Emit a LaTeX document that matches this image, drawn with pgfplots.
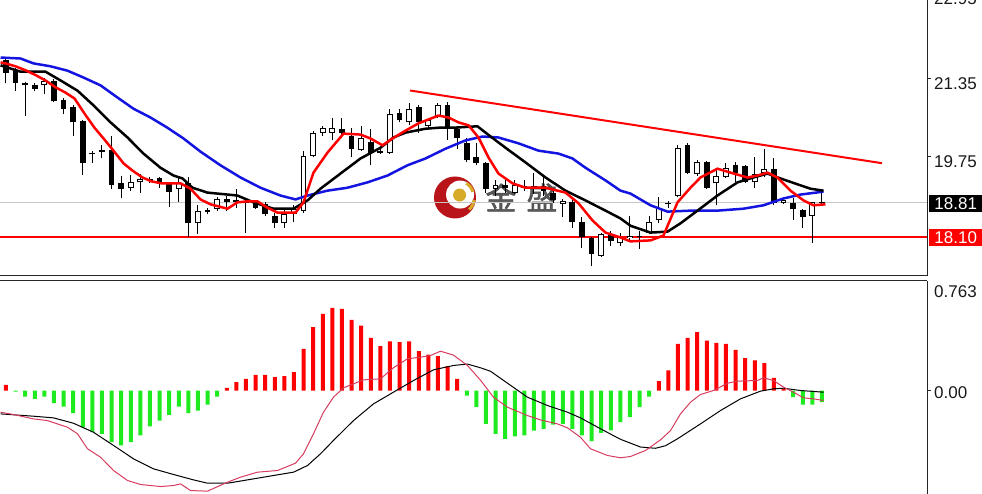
\documentclass[border=0pt]{standalone}
\usepackage{pgfplots}
\pgfplotsset{compat=1.18}
\usepackage{pgfplotstable}
\usepackage{fontspec}
\setmainfont{Liberation Sans}
\newfontfamily\cjk[FakeBold=1.5]{Noto Sans CJK SC}

\definecolor{maBlue}{RGB}{20,20,225}
\definecolor{histRed}{RGB}{255,0,0}
\definecolor{histGreen}{RGB}{30,235,30}
\definecolor{macdPink}{RGB}{214,60,95}
\definecolor{logoRed}{RGB}{185,20,25}
\definecolor{logoGold}{RGB}{215,170,40}
\definecolor{wmGray}{RGB}{60,60,60}
\newcommand\lbl{\fontsize{17}{17}\selectfont}

% daily bars: index, open, high, low, close
\pgfplotstableread{
i O H L C
0 21.72 21.80 21.25 21.47
1 21.51 21.56 21.10 21.25
2 21.25 21.27 20.59 21.21
3 21.21 21.25 21.10 21.14
4 21.21 21.35 21.04 21.29
5 21.29 21.33 20.86 20.88
6 20.90 20.96 20.63 20.73
7 20.76 20.80 20.18 20.45
8 20.47 20.49 19.38 19.61
9 19.81 19.87 19.61 19.83
10 19.85 19.98 19.71 19.89
11 19.89 20.18 19.09 19.16
12 19.20 19.36 18.89 19.09
13 19.11 19.38 19.05 19.22
14 19.22 19.40 19.01 19.28
15 19.28 19.32 19.20 19.24
16 19.30 19.34 19.11 19.20
17 19.20 19.22 18.72 19.03
18 19.09 19.32 18.81 19.20
19 19.20 19.32 18.09 18.38
20 18.38 18.75 18.17 18.64
21 18.62 18.70 18.58 18.66
22 18.68 18.91 18.64 18.87
23 18.87 18.95 18.64 18.81
24 18.81 19.09 18.70 18.85
25 18.83 18.85 18.19 18.79
26 18.79 18.83 18.68 18.70
27 18.77 18.81 18.54 18.58
28 18.54 18.60 18.29 18.38
29 18.38 18.68 18.29 18.58
30 18.58 18.75 18.40 18.68
31 18.64 19.87 18.60 19.77
32 19.77 20.28 19.73 20.24
33 20.24 20.37 20.18 20.34
34 20.24 20.53 20.08 20.34
35 20.32 20.53 20.12 20.24
36 20.18 20.34 19.73 19.91
37 19.89 20.37 19.87 20.12
38 20.04 20.32 19.57 19.83
39 19.87 19.91 19.81 19.83
40 19.83 20.73 19.81 20.63
41 20.65 20.73 20.45 20.49
42 20.45 20.84 20.39 20.73
43 20.76 20.80 20.24 20.45
44 20.37 20.55 20.32 20.49
45 20.59 20.84 20.53 20.80
46 20.80 20.86 20.08 20.32
47 20.32 20.34 19.91 20.14
48 20.02 20.12 19.63 19.67
49 19.73 20.02 19.57 19.61
50 19.61 19.63 19.01 19.09
51 19.09 19.26 18.95 19.16
52 19.16 19.30 19.01 19.11
53 19.01 19.26 18.99 19.16
54 19.11 19.26 19.05 19.14
55 19.14 19.42 18.99 19.09
56 19.14 19.36 18.95 19.05
57 19.01 19.05 18.79 18.85
58 18.77 18.87 18.50 18.83
59 18.81 18.85 18.29 18.40
60 18.40 18.50 17.88 18.09
61 18.07 18.09 17.51 17.76
62 17.72 18.19 17.68 18.17
63 18.17 18.23 17.92 18.01
64 17.97 18.19 17.92 18.09
65 18.07 18.54 17.99 18.13
66 18.09 18.23 17.86 18.13
67 18.19 18.54 18.17 18.40
68 18.44 18.91 18.38 18.70
69 18.77 18.83 18.70 18.79
70 18.95 19.98 18.91 19.93
71 19.98 20.02 19.40 19.42
72 19.40 19.67 19.36 19.63
73 19.63 19.65 19.09 19.11
74 19.20 19.50 18.75 19.36
75 19.32 19.61 19.30 19.52
76 19.57 19.63 19.22 19.42
77 19.55 19.57 19.20 19.22
78 19.22 19.73 19.11 19.40
79 19.42 19.91 19.32 19.50
80 19.50 19.71 18.75 18.79
81 18.79 18.87 18.77 18.85
82 18.79 18.89 18.44 18.68
83 18.66 18.68 18.29 18.50
84 18.54 18.82 17.97 18.81
85 18.79 19.05 18.77 18.81
}\candles

% MACD histogram
\pgfplotstableread{
i h
0 0.044
1 -0.008
2 -0.047
3 -0.065
4 -0.047
5 -0.099
6 -0.125
7 -0.177
8 -0.286
9 -0.325
10 -0.337
11 -0.402
12 -0.428
13 -0.402
14 -0.350
15 -0.280
16 -0.234
17 -0.190
18 -0.125
19 -0.177
20 -0.156
21 -0.109
22 -0.047
23 0.021
24 0.065
25 0.091
26 0.122
27 0.122
28 0.104
29 0.112
30 0.143
31 0.325
32 0.493
33 0.597
34 0.644
35 0.636
36 0.550
37 0.506
38 0.410
39 0.345
40 0.382
41 0.376
42 0.382
43 0.306
44 0.280
45 0.267
46 0.190
47 0.091
48 -0.039
49 -0.130
50 -0.260
51 -0.337
52 -0.376
53 -0.358
54 -0.350
55 -0.312
56 -0.299
57 -0.265
58 -0.260
59 -0.299
60 -0.350
61 -0.395
62 -0.330
63 -0.310
64 -0.247
65 -0.208
66 -0.130
67 -0.047
68 0.073
69 0.156
70 0.363
71 0.410
72 0.454
73 0.389
74 0.371
75 0.363
76 0.317
77 0.252
78 0.234
79 0.213
80 0.099
81 0.013
82 -0.052
83 -0.109
84 -0.109
85 -0.091
}\hist

\begin{document}
\begin{tikzpicture}[x=1pt,y=1pt]
\path[use as bounding box] (0pt,0pt) rectangle (982pt,494pt);

% ---------------- price panel ----------------
\begin{axis}[
  at={(0pt,218pt)}, anchor=south west,
  width=927pt, height=276pt, scale only axis,
  xmin=-0.625, xmax=95.94, ymin=17.30, ymax=22.96,
  axis x line*=bottom, axis y line*=right,
  axis line style={line width=1pt, black!85},
  xtick=\empty, ytick={21.35,19.75}, yticklabels={},
  tick align=outside, major tick length=4pt,
  tick style={line width=1pt, black!85},
]
% watermark
\fill[logoRed] (axis cs:46.77,18.91) circle[radius=21pt];
\fill[white] (axis cs:47.30,18.97) circle[radius=14pt];
\fill[logoGold] (axis cs:47.25,18.96) circle[radius=6.5pt];
\draw[logoGold, line width=3pt] (axis cs:47.95,19.20) arc[start angle=60, end angle=15, radius=14pt];
\draw[logoGold, line width=3pt] (axis cs:48.75,18.86) arc[start angle=-5, end angle=-50, radius=14pt];
\node[font=\cjk\fontsize{31}{31}\selectfont, text=wmGray, opacity=0.85] at (axis cs:51.56,18.91) {金};
\node[font=\cjk\fontsize{31}{31}\selectfont, text=wmGray, opacity=0.85] at (axis cs:55.83,18.91) {盛};

% bid line, support and falling resistance
\addplot[gray!45, line width=0.8pt] coordinates {(-0.625,18.81) (95.94,18.81)};
\addplot[red, line width=2.4pt] coordinates {(-0.625,18.10) (95.94,18.10)};
\addplot[red, line width=2pt] coordinates {(42.08,21.104) (91.25,19.613)};

% candle wicks
\addplot[draw=none, mark=none, forget plot,
  error bars/.cd, y dir=plus, y explicit, error mark=none,
  error bar style={draw=black, solid, line width=1pt}]
  table[x=i, y=L, y error plus expr={\thisrow{H}-\thisrow{L}}] {\candles};
% candle bodies
\addplot[draw=none, mark=none, forget plot,
  error bars/.cd, y dir=plus, y explicit, error mark=none,
  error bar style={draw=black, solid, line width=5.8pt}]
  table[x=i, y expr={min(\thisrow{O},\thisrow{C})},
        y error plus expr={abs(\thisrow{C}-\thisrow{O})}] {\candles};
% hollow interior of rising bodies
\addplot[draw=none, mark=none, forget plot,
  error bars/.cd, y dir=plus, y explicit, error mark=none,
  error bar style={draw=white, solid, line width=3.8pt}]
  table[x=i, y expr={\thisrow{O}+0.0205},
        y error plus expr={(\thisrow{C}>\thisrow{O})*max(\thisrow{C}-\thisrow{O}-0.041,0)}] {\candles};

% moving averages
\addplot[maBlue, line width=2.5pt] coordinates {
(-0.57,21.78) (1.51,21.76) (2.86,21.66) (4.64,21.60) (6.41,21.51) (8.07,21.37) (9.84,21.21)
(11.61,20.96) (13.28,20.73) (15.05,20.55) (16.82,20.34) (18.49,20.12) (20.26,19.85) (22.34,19.57)
(24.43,19.32) (26.51,19.11) (28.59,18.95) (30.16,18.87) (31.41,18.95) (33.49,19.05) (35.57,19.11)
(37.66,19.22) (39.74,19.36) (41.82,19.57) (43.70,19.71) (45.78,19.91) (47.86,20.08) (49.64,20.16)
(51.30,20.14) (53.39,20.02) (55.47,19.87) (57.55,19.81) (59.01,19.71) (60.36,19.52) (62.45,19.26)
(64.01,19.05) (65.05,18.99) (67.14,18.75) (68.91,18.62) (71.30,18.64) (74.11,18.64) (76.82,18.68)
(78.91,18.75) (80.99,18.89) (82.76,18.97) (85.16,19.03)};
\addplot[black, line width=2.5pt] coordinates {
(-0.57,21.62) (1.51,21.49) (4.11,21.49) (5.68,21.31) (7.45,21.10) (9.11,20.80) (10.89,20.45)
(12.66,20.14) (14.32,19.81) (16.09,19.52) (17.45,19.36) (18.39,19.30) (19.43,19.11) (20.99,19.01)
(22.03,18.99) (24.11,18.95) (25.78,18.81) (27.86,18.68) (29.95,18.68) (31.41,18.85) (32.76,19.09)
(34.84,19.40) (36.93,19.71) (39.01,19.93) (40.36,20.14) (41.61,20.24) (43.70,20.32) (45.05,20.34)
(46.51,20.34) (49.11,20.37) (49.95,20.24) (52.03,19.93) (54.11,19.63) (56.20,19.32) (58.28,19.05)
(60.36,18.85) (62.45,18.64) (64.01,18.48) (65.05,18.33) (67.14,18.19) (68.91,18.21) (70.26,18.38)
(72.03,18.64) (74.11,18.95) (76.20,19.22) (77.86,19.32) (79.32,19.40) (80.68,19.30) (82.45,19.18)
(83.80,19.09) (85.16,19.05)};
\addplot[red, line width=2.5pt] coordinates {
(-0.57,21.68) (-0.05,21.66) (0.99,21.60) (2.14,21.51) (3.18,21.41) (4.11,21.31) (5.16,21.17)
(6.20,21.06) (7.14,20.94) (8.18,20.63) (9.22,20.34) (10.16,20.12) (11.20,19.87) (12.24,19.61)
(13.18,19.46) (14.22,19.32) (15.16,19.24) (16.20,19.20) (17.24,19.20) (18.18,19.20) (19.22,19.09)
(20.26,18.87) (21.30,18.77) (23.07,18.68) (24.11,18.81) (25.16,18.83) (26.20,18.83) (27.24,18.70)
(28.28,18.60) (30.16,18.60) (30.99,18.81) (32.03,19.42) (33.49,19.83) (35.16,20.22) (36.93,20.20)
(37.97,20.12) (39.22,19.98) (40.26,20.12) (41.61,20.28) (42.97,20.43) (45.05,20.59) (46.09,20.55)
(47.14,20.45) (48.18,20.39) (49.22,20.14) (50.26,19.73) (51.30,19.40) (52.76,19.20) (54.11,19.11)
(56.20,19.11) (58.28,19.01) (59.64,18.79) (61.09,18.44) (62.45,18.19) (64.01,18.09) (65.05,18.01)
(67.14,18.03) (68.49,18.13) (69.95,18.81) (71.30,19.11) (72.34,19.32) (74.11,19.50) (75.47,19.42)
(77.24,19.32) (78.28,19.36) (79.32,19.42) (80.36,19.32) (81.72,19.05) (83.07,18.85) (84.11,18.75)
(85.36,18.77)};

\coordinate (P2135) at (axis cs:0,21.35);
\coordinate (P1975) at (axis cs:0,19.75);
\coordinate (P1881) at (axis cs:0,18.81);
\coordinate (P1810) at (axis cs:0,18.10);
\end{axis}

% ---------------- MACD panel ----------------
\begin{axis}[
  at={(0pt,0pt)}, anchor=south west,
  width=927pt, height=213pt, scale only axis,
  xmin=-0.625, xmax=95.94, ymin=-0.806, ymax=0.853,
  axis x line*=top, axis y line*=right,
  axis line style={line width=1pt, black!85},
  xtick=\empty, ytick={0}, yticklabels={},
  tick align=outside, major tick length=4pt,
  tick style={line width=1pt, black!85},
]
\addplot[ybar, bar width=4pt, bar shift=0pt, fill=histRed, draw=none,
  restrict y to domain=0:2] table[x=i, y=h] {\hist};
\addplot[ybar, bar width=4pt, bar shift=0pt, fill=histGreen, draw=none,
  restrict y to domain=-2:0] table[x=i, y=h] {\hist};

\addplot[black, line width=1pt] coordinates {
(-0.57,-0.182) (2.86,-0.200) (4.95,-0.213) (7.03,-0.255) (9.11,-0.325) (11.20,-0.428) (13.28,-0.532)
(15.36,-0.610) (17.45,-0.654) (19.53,-0.696) (20.99,-0.722) (23.07,-0.722) (25.16,-0.696) (27.86,-0.662)
(29.95,-0.636) (31.41,-0.584) (32.76,-0.493) (34.11,-0.389) (36.20,-0.234) (38.28,-0.104) (40.36,-0.013)
(42.45,0.078) (44.53,0.161) (46.61,0.195) (48.07,0.206) (49.43,0.177) (50.47,0.150) (52.24,0.057)
(54.32,-0.052) (56.41,-0.117) (58.49,-0.169) (59.84,-0.213) (61.93,-0.298) (64.01,-0.380) (66.09,-0.440)
(67.66,-0.450) (68.70,-0.430) (69.95,-0.376) (72.34,-0.260) (74.43,-0.156) (76.51,-0.065) (78.59,-0.005)
(79.95,0.013) (80.99,0.018) (82.76,0.0) (85.16,-0.013)};
\addplot[macdPink, line width=1pt] coordinates {
(-0.57,-0.169) (0.78,-0.187) (2.86,-0.221) (4.32,-0.234) (6.41,-0.286) (7.45,-0.337) (8.49,-0.454)
(9.84,-0.519) (11.20,-0.623) (12.66,-0.701) (14.01,-0.732) (16.09,-0.748) (17.45,-0.740) (18.18,-0.727)
(19.22,-0.779) (20.99,-0.784) (23.07,-0.714) (24.43,-0.675) (26.20,-0.636) (28.28,-0.623) (30.16,-0.566)
(30.99,-0.493) (32.03,-0.337) (33.07,-0.169) (34.11,-0.052) (35.16,0.021) (36.20,0.052) (37.24,0.083)
(39.01,0.091) (40.36,0.177) (41.82,0.247) (43.18,0.260) (44.22,0.273) (45.26,0.306) (46.61,0.276)
(48.07,0.195) (49.43,0.080) (50.78,-0.052) (52.24,-0.130) (54.32,-0.195) (55.68,-0.229) (57.45,-0.260)
(58.49,-0.291) (59.84,-0.364) (60.89,-0.454) (62.66,-0.506) (64.01,-0.524) (65.05,-0.514) (66.61,-0.467)
(68.18,-0.384) (69.22,-0.312) (70.26,-0.182) (71.30,-0.091) (72.34,-0.031) (73.70,0.0) (75.16,0.057)
(76.20,0.073) (78.28,0.078) (78.91,0.099) (79.95,0.078) (80.99,0.026) (82.03,-0.013) (83.07,-0.057)
(84.11,-0.065) (85.16,-0.078)};

\coordinate (M0) at (axis cs:0,0);
\coordinate (M763) at (axis cs:0,0.763);
\end{axis}

% ---------------- price scale ----------------
\begin{scope}[every node/.style={font=\lbl, inner sep=0pt, anchor=west, text=black!90}]
\node at (934pt,495pt) {22.95};
\node[yshift=-5pt] at (934pt,0pt |- P2135) {21.35};
\node[yshift=-5pt] at (934pt,0pt |- P1975) {19.75};
\node[fill=black, text=white, anchor=west, minimum width=53pt, minimum height=17pt,
      yshift=-1pt] at (929pt,0pt |- P1881) {18.81};
\node[fill=red, text=white, anchor=west, minimum width=53pt, minimum height=17pt,
      yshift=-1pt] at (929pt,0pt |- P1810) {18.10};
\node[yshift=1pt] at (934pt,0pt |- M763) {0.763};
\node[yshift=-2pt] at (934pt,0pt |- M0) {0.00};
\end{scope}
\end{tikzpicture}
\end{document}
